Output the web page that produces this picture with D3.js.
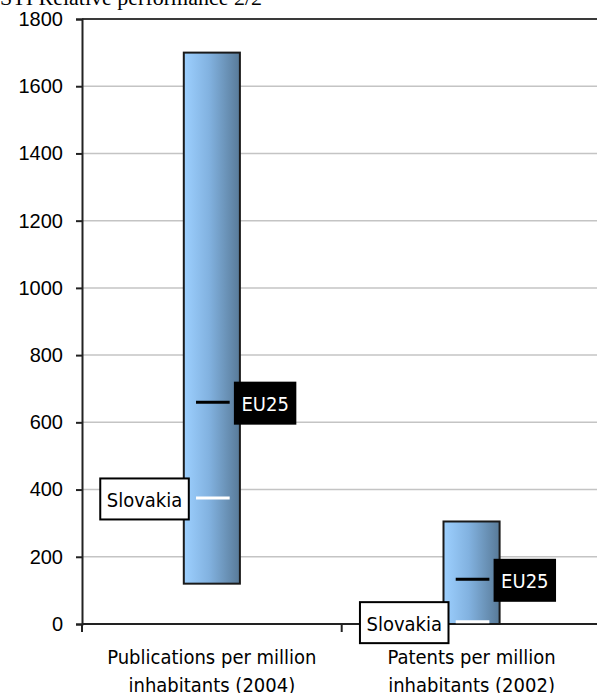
<!DOCTYPE html>
<html>
<head>
<meta charset="utf-8">
<script src="https://cdn.jsdelivr.net/npm/d3@7/dist/d3.min.js"></script>
<style>
  html, body { margin: 0; padding: 0; background: #fff; overflow: hidden; }
  svg { display: block; }
</style>
</head>
<body>
<svg id="chart" width="597" height="693"></svg>
<script>
// Indicator ranges across countries, with EU25 average and Slovakia marked
const categories = [
  ["Publications per million", "inhabitants (2004)"],
  ["Patents per million", "inhabitants (2002)"]
];
const rangeLow = [120, 0];
const rangeHigh = [1700, 305];
const eu25 = [660, 133];
const slovakia = [375, 7];
const yTicks = [0, 200, 400, 600, 800, 1000, 1200, 1400, 1600, 1800];

const svg = d3.select("#chart");
const plotLeft = 82, plotRight = 601.4, plotTop = 19, plotBottom = 624;

const x = d3.scaleBand()
  .domain(d3.range(categories.length))
  .range([plotLeft, plotRight])
  .padding(0);
const y = d3.scaleLinear().domain([0, 1800]).range([plotBottom, plotTop]);

const barW = x.bandwidth() * 0.216;
const markW = barW * 0.6;
const labelFont = "'DejaVu Sans Condensed', 'DejaVu Sans', sans-serif";

// Title (sits partly above the visible area)
svg.append("text")
  .attr("x", 0).attr("y", 5)
  .attr("font-family", "'Liberation Serif', 'Times New Roman', serif")
  .attr("font-size", 22)
  .attr("fill", "#000")
  .text("STI Relative performance 2/2");

// Gradient for the range bars
const grad = svg.append("defs").append("linearGradient")
  .attr("id", "barGrad").attr("x1", "0").attr("x2", "1").attr("y1", "0").attr("y2", "0");
grad.append("stop").attr("offset", "0%").attr("stop-color", "#9dd0ff");
grad.append("stop").attr("offset", "45%").attr("stop-color", "#82b2e0");
grad.append("stop").attr("offset", "100%").attr("stop-color", "#587a98");

// Horizontal gridlines
svg.append("g").selectAll("line")
  .data(yTicks.filter(t => t > 0 && t < 1800))
  .join("line")
  .attr("x1", plotLeft).attr("x2", plotRight)
  .attr("y1", d => y(d)).attr("y2", d => y(d))
  .attr("stroke", "#c4c4c4").attr("stroke-width", 1.5);

// Top border of the plot area
svg.append("line")
  .attr("x1", plotLeft).attr("x2", plotRight)
  .attr("y1", plotTop).attr("y2", plotTop)
  .attr("stroke", "#3a3a3a").attr("stroke-width", 2);

// Y axis
const yAxis = d3.axisLeft(y).tickValues(yTicks).tickSize(6).tickPadding(13).tickFormat(d3.format("d"));
const gy = svg.append("g").attr("transform", `translate(${plotLeft},0)`).call(yAxis);
gy.select(".domain").attr("stroke", "#222").attr("stroke-width", 2);
gy.selectAll(".tick line").attr("stroke", "#222").attr("stroke-width", 2);
gy.selectAll(".tick text")
  .attr("font-family", "'Liberation Sans', Arial, sans-serif")
  .attr("font-size", 20).attr("fill", "#000");

// X axis line with category separators
svg.append("line")
  .attr("x1", plotLeft).attr("x2", plotRight)
  .attr("y1", plotBottom).attr("y2", plotBottom)
  .attr("stroke", "#222").attr("stroke-width", 2);
svg.append("g").selectAll("line")
  .data(d3.range(categories.length + 1))
  .join("line")
  .attr("x1", i => plotLeft + i * x.step()).attr("x2", i => plotLeft + i * x.step())
  .attr("y1", plotBottom).attr("y2", plotBottom + 8)
  .attr("stroke", "#222").attr("stroke-width", 2);

// Category labels
categories.forEach((lines, i) => {
  const t = svg.append("text")
    .attr("text-anchor", "middle")
    .attr("font-family", labelFont)
    .attr("font-size", 20)
    .attr("fill", "#000");
  lines.forEach((ln, j) => {
    t.append("tspan")
      .attr("x", x(i) + x.bandwidth() / 2)
      .attr("y", 664 + j * 28)
      .text(ln);
  });
});

// Range bars
const cx = i => x(i) + x.bandwidth() / 2;
svg.append("g").selectAll("rect")
  .data(d3.range(categories.length))
  .join("rect")
  .attr("x", i => cx(i) - barW / 2)
  .attr("width", barW)
  .attr("y", i => y(rangeHigh[i]))
  .attr("height", i => y(rangeLow[i]) - y(rangeHigh[i]))
  .attr("fill", "url(#barGrad)")
  .attr("stroke", "#1a1a1a").attr("stroke-width", 2);

// Markers
function markers(values, color) {
  svg.append("g").selectAll("line")
    .data(values)
    .join("line")
    .attr("x1", (d, i) => cx(i) - markW / 2 + 1)
    .attr("x2", (d, i) => cx(i) + markW / 2 + 1)
    .attr("y1", d => y(d)).attr("y2", d => y(d))
    .attr("stroke", color).attr("stroke-width", 3);
}
markers(eu25, "#000");
markers(slovakia, "#fff");

// Callout labels
function callout(values, text, side, bg, fg) {
  values.forEach((v, i) => {
    const g = svg.append("g");
    const rect = g.append("rect");
    const t = g.append("text")
      .attr("font-family", labelFont)
      .attr("font-size", 20)
      .attr("fill", fg)
      .attr("dominant-baseline", "central")
      .text(text);
    const tw = t.node().getComputedTextLength();
    const w = tw + 13, h = 41;
    const bx = side === "right" ? cx(i) + barW / 2 - 5 : cx(i) - barW / 2 + 5 - w;
    const by = y(v) + 1 - h / 2;
    rect.attr("x", bx).attr("y", by).attr("width", w).attr("height", h)
      .attr("fill", bg).attr("stroke", "#000").attr("stroke-width", 2);
    t.attr("x", bx + 6.5).attr("y", by + h / 2 + 1);
  });
}
callout(eu25, "EU25", "right", "#000", "#fff");
callout(slovakia, "Slovakia", "left", "#fff", "#000");
</script>
</body>
</html>
